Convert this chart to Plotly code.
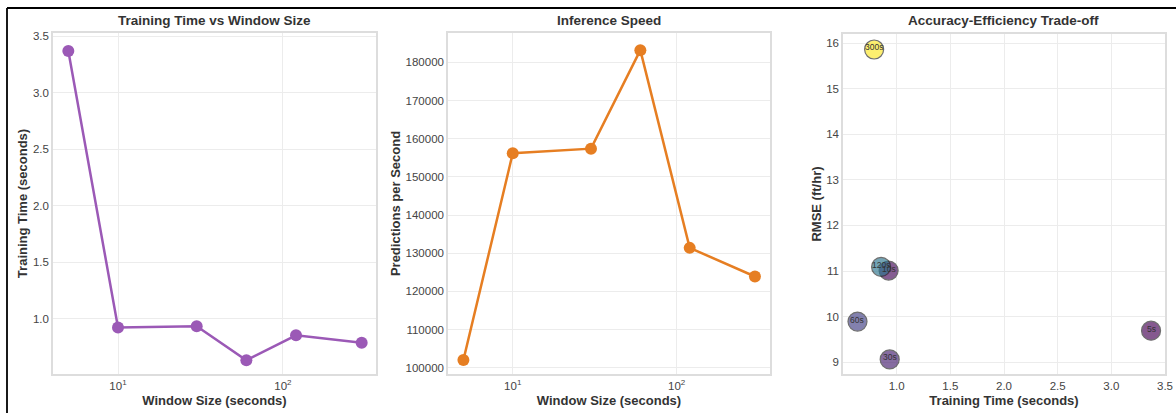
import plotly.graph_objects as go

# Window-size experiment results
window_sizes = [5, 10, 30, 60, 120, 300]
window_labels = ["5s", "10s", "30s", "60s", "120s", "300s"]
training_time = [3.37, 0.925, 0.935, 0.635, 0.855, 0.79]
predictions_per_sec = [102000, 156200, 157400, 183200, 131400, 123900]
rmse = [9.69, 11.01, 9.06, 9.89, 11.09, 15.86]

W, H = 1176, 413
FONT = "Liberation Sans, Arial, sans-serif"


def xd(a, b):
    return [a / W, b / W]


def yd(top, bottom):
    return [1 - bottom / H, 1 - top / H]


fig = go.Figure()

# Panel 1: training time vs window size
fig.add_trace(go.Scatter(
    x=window_sizes, y=training_time, mode="lines+markers",
    line=dict(color="#9b59b6", width=2.5),
    marker=dict(color="#9b59b6", size=12),
    xaxis="x", yaxis="y", showlegend=False))

# Panel 2: inference speed
fig.add_trace(go.Scatter(
    x=window_sizes, y=predictions_per_sec, mode="lines+markers",
    line=dict(color="#e67e22", width=2.5),
    marker=dict(color="#e67e22", size=12),
    xaxis="x2", yaxis="y2", showlegend=False))

# Panel 3: accuracy vs efficiency, coloured by window size
fig.add_trace(go.Scatter(
    x=training_time, y=rmse, mode="markers",
    marker=dict(size=19, color=window_sizes, colorscale="Viridis",
                opacity=0.65, line=dict(color="#222222", width=1.2)),
    xaxis="x3", yaxis="y3", showlegend=False))

for tx, ty, lab in zip(training_time, rmse, window_labels):
    fig.add_annotation(x=tx, y=ty, text=lab, xref="x3", yref="y3",
                       showarrow=False, yshift=2,
                       font=dict(family=FONT, size=8.5, color="#333333"))

axis_common = dict(
    showline=True, mirror=True, linecolor="#dddddd", linewidth=1.5,
    showgrid=True, gridcolor="#ececec", gridwidth=1,
    zeroline=False, ticks="", automargin=False,
    tickfont=dict(family=FONT, size=11.5, color="#444444"),
)
title_font = dict(family=FONT, size=13, color="#333333")

log_ticks = dict(tickvals=[10, 100], ticktext=["10<sup>1</sup>", "10<sup>2</sup>"])

fig.update_layout(
    width=W, height=H,
    margin=dict(l=0, r=0, t=0, b=0),
    paper_bgcolor="white", plot_bgcolor="white",
    font=dict(family=FONT),
    xaxis=dict(axis_common, domain=xd(53, 376), type="log",
               range=[0.606, 2.564], anchor="y", **log_ticks,
               title=dict(text="<b>Window Size (seconds)</b>", font=title_font, standoff=5)),
    yaxis=dict(axis_common, domain=yd(33, 374), range=[0.513, 3.53],
               tickvals=[1.0, 1.5, 2.0, 2.5, 3.0, 3.5], tickformat=".1f", anchor="x",
               title=dict(text="<b>Training Time (seconds)</b>", font=title_font, standoff=2)),
    xaxis2=dict(axis_common, domain=xd(448, 770), type="log",
                range=[0.605, 2.569], anchor="y2", **log_ticks,
                title=dict(text="<b>Window Size (seconds)</b>", font=title_font, standoff=5)),
    yaxis2=dict(axis_common, domain=yd(33, 374), range=[98350, 187700],
                tickvals=[100000, 110000, 120000, 130000, 140000, 150000,
                          160000, 170000, 180000],
                tickformat="d", anchor="x2",
                title=dict(text="<b>Predictions per Second</b>", font=title_font, standoff=2)),
    xaxis3=dict(axis_common, domain=xd(843, 1165), range=[0.5, 3.5],
                tickvals=[1.0, 1.5, 2.0, 2.5, 3.0, 3.5], tickformat=".1f", anchor="y3",
                title=dict(text="<b>Training Time (seconds)</b>", font=title_font, standoff=5)),
    yaxis3=dict(axis_common, domain=yd(34, 374), range=[8.74, 16.2],
                tickvals=[9, 10, 11, 12, 13, 14, 15, 16], anchor="x3",
                title=dict(text="<b>RMSE (ft/hr)</b>", font=title_font, standoff=2)),
)

# Panel titles
for cx, text in [(214.5, "Training Time vs Window Size"),
                 (609, "Inference Speed"),
                 (1004, "Accuracy-Efficiency Trade-off")]:
    fig.add_annotation(x=cx / W, y=1 - 21 / H, xref="paper", yref="paper",
                       xanchor="center", yanchor="middle",
                       text=f"<b>{text}</b>", showarrow=False,
                       font=dict(family=FONT, size=13.5, color="#333333"))

# Outer frame lines along the top and left edges
fig.add_shape(type="line", xref="paper", yref="paper",
              x0=7 / W, x1=1.0, y0=1 - 8 / H, y1=1 - 8 / H,
              line=dict(color="black", width=1.8))
fig.add_shape(type="line", xref="paper", yref="paper",
              x0=7 / W, x1=7 / W, y0=0, y1=1 - 8 / H,
              line=dict(color="black", width=1.8))

fig.write_html("out.html")
